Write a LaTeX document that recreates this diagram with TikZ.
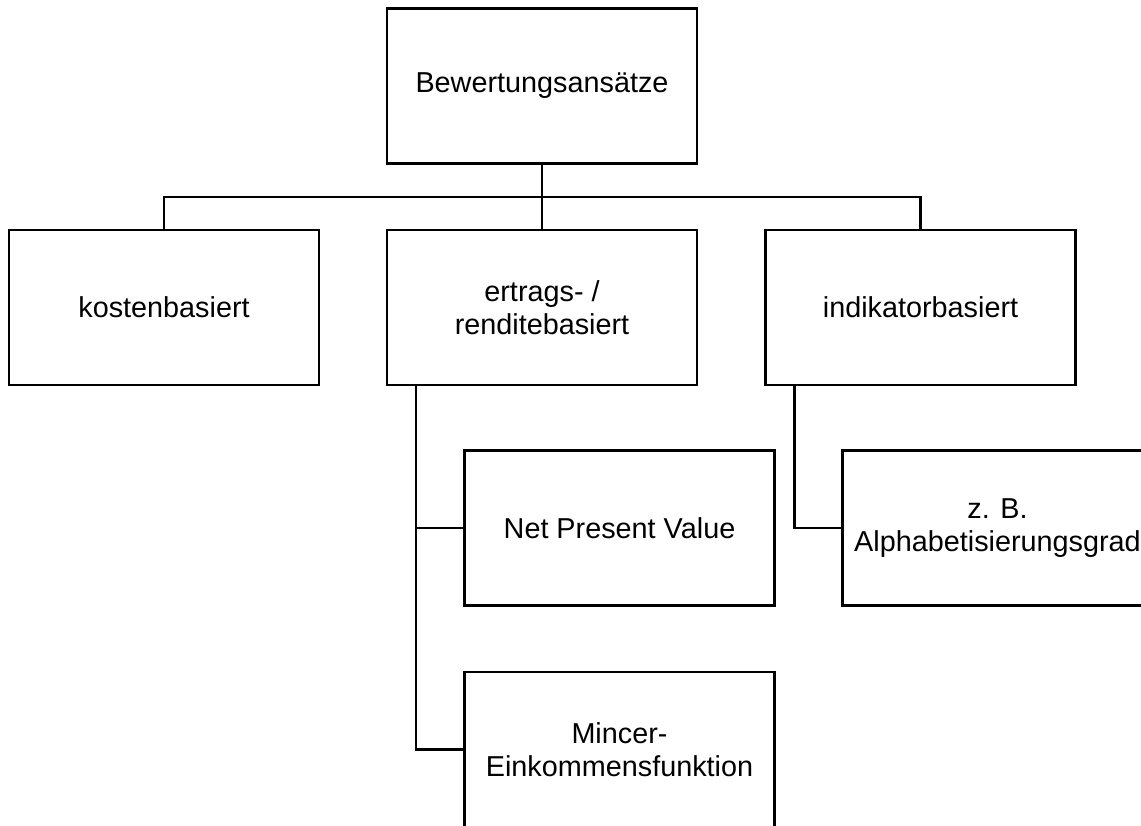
\documentclass[tikz,border=0pt]{standalone}
\usepackage{fontspec}
\setmainfont{Liberation Sans}
\usepackage{tikz}

\begin{document}
\begin{tikzpicture}[x=1pt,y=-1pt,
    box/.style={draw, line width=2.2pt, minimum width=310pt, minimum height=155pt,
      inner sep=0pt, align=center, font=\fontsize{28.8}{33}\selectfont},
    link/.style={line width=2.2pt}]
  \useasboundingbox (0,0) rectangle (1141,825);
  \clip (0,0) rectangle (1141,825);

  \node [box] (top) at (542,86) {Bewertungsansätze};

  \node [box] (kost) at (164,307.5) {kostenbasiert};
  \node [box] (ertr) at (542,307.5) {ertrags- /\\renditebasiert};
  \node [box] (ind) at (920.5,307.5) {indikatorbasiert};

  \node [box] (npv) at (619.5,528) {Net Present Value};
  \node [box] (alpha) at (997.5,528) {z. B.\\Alphabetisierungsgrad};
  \node [box] (mincer) at (619.5,749.5) {Mincer-\\Einkommensfunktion};

  \coordinate (J) at (542,197);
  \coordinate (E) at (416,385);
  \coordinate (I) at (794.5,385);

  \draw [link] (top.south) -- (J);
  \draw [link] (kost.north) |- (J) -| (ind.north);
  \draw [link] (J) -- (ertr.north);

  \draw [link] (E) |- (npv.west);
  \draw [link] (E) |- (mincer.west);
  \draw [link] (I) |- (alpha.west);
\end{tikzpicture}
\end{document}
